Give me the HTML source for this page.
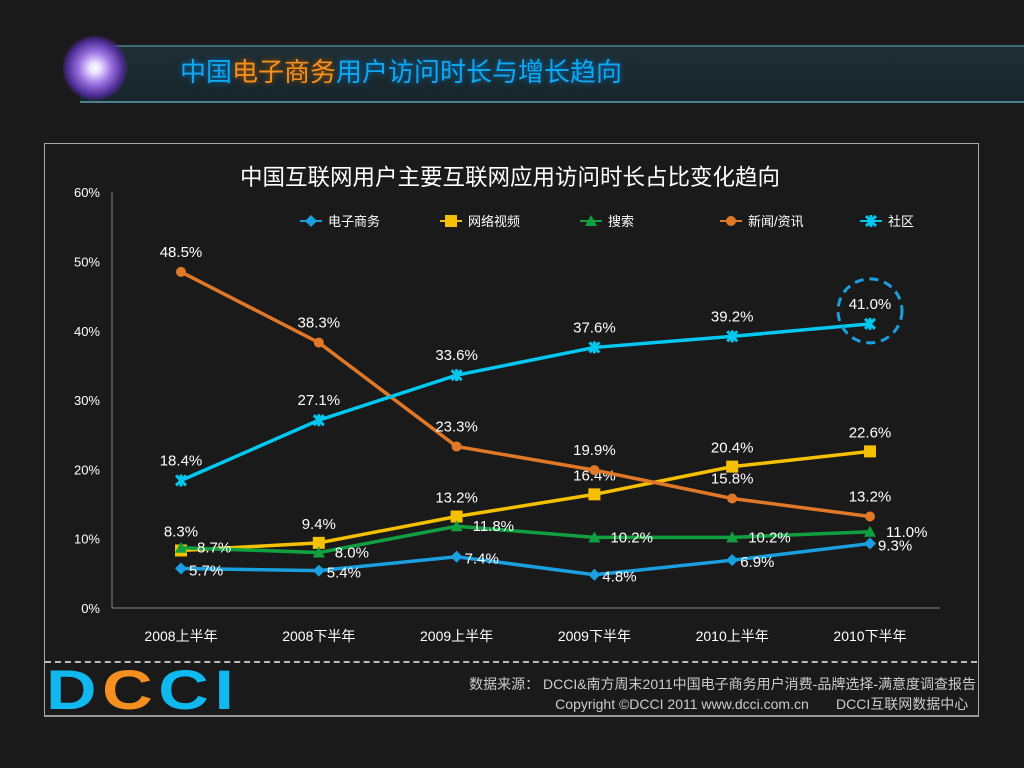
<!DOCTYPE html>
<html><head><meta charset="utf-8"><style>
body{margin:0;width:1024px;height:768px;background:#1a1a1a;overflow:hidden;font-family:"Liberation Sans","Noto Sans CJK SC",sans-serif;position:relative}
.abs{position:absolute}
</style></head><body>
<div class="abs" style="left:80px;top:45px;width:944px;height:54px;background:linear-gradient(#1f2e33,#16262b);border-top:2px solid #3a6a78;border-bottom:2px solid #4a8090"></div>
<div class="abs" style="left:62px;top:35px;width:66px;height:66px;border-radius:50%;background:radial-gradient(circle,#fff 0,#e8e0ff 12%,#9a70e0 35%,#4a2a90 60%,rgba(30,20,60,0) 72%)"></div>
<div class="abs" style="left:180px;top:52px;font-size:26px;color:#10a8f0;text-shadow:0 0 6px #0070c0;font-family:'Liberation Sans','Noto Sans CJK SC',sans-serif">中国<span style="color:#f59020;text-shadow:0 0 6px #a05000">电子商务</span>用户访问时长与增长趋向</div>
<div class="abs" style="left:44px;top:143px;width:933px;height:571px;border:1px solid #aaa;border-bottom:2px solid #999"></div>
<div class="abs" style="left:45px;top:661px;width:932px;border-top:2px dashed #bbb"></div>
<div class="abs" style="left:46px;top:662px;font-size:50px;font-weight:bold;letter-spacing:4px;line-height:50px;font-family:'Liberation Sans',sans-serif;transform:scaleX(1.4) scaleY(1.12);transform-origin:0 0"><span style="color:#10b8f0">D</span><span style="color:#f59020">C</span><span style="color:#10b8f0">CI</span></div>
<div class="abs" style="left:420px;top:674px;width:556px;text-align:right;color:#ccc;font-size:14px;line-height:20px">数据来源： DCCI&amp;南方周末2011中国电子商务用户消费-品牌选择-满意度调查报告<br>Copyright ©DCCI 2011 www.dcci.com.cn&nbsp;&nbsp;&nbsp;&nbsp;&nbsp;&nbsp;&nbsp;DCCI互联网数据中心&nbsp;&nbsp;</div>
<svg class="abs" style="left:0;top:0" width="1024" height="768" id="chart"></svg>
<script>
const categories=["2008上半年","2008下半年","2009上半年","2009下半年","2010上半年","2010下半年"];
const yTicks=[0,10,20,30,40,50,60];
const seriesNames=["电子商务","网络视频","搜索","新闻/资讯","社区"];
const ecommerce=[5.7,5.4,7.4,4.8,6.9,9.3];
const video=[8.3,9.4,13.2,16.4,20.4,22.6];
const search=[8.7,8.0,11.8,10.2,10.2,11.0];
const news=[48.5,38.3,23.3,19.9,15.8,13.2];
const community=[18.4,27.1,33.6,37.6,39.2,41.0];
const svg=document.getElementById('chart');const NS='http://www.w3.org/2000/svg';
const x=i=>181+i*137.8, y=v=>608-v*6.93;
function mk(t,a,txt){const e=document.createElementNS(NS,t);for(const k in a)e.setAttribute(k,a[k]);if(txt!=null)e.textContent=txt;svg.appendChild(e);return e;}
let e=mk('text',{x:510,y:185,'text-anchor':'middle',fill:'#fff','font-size':22.5},'中国互联网用户主要互联网应用访问时长占比变化趋向');


e=mk('line',{x1:112,y1:192,x2:112,y2:608,stroke:'#888'});


e=mk('line',{x1:112,y1:608,x2:940,y2:608,stroke:'#888'});


yTicks.forEach(t=>{e=mk('text',{x:100,y:y(t)+5,'text-anchor':'end',fill:'#fff','font-size':13},t+'%');

});
categories.forEach((c,i)=>{e=mk('text',{x:x(i),y:641,'text-anchor':'middle',fill:'#fff','font-size':14},c);

});
const series=[
 {d:ecommerce,c:'#1aa0e0',m:'diamond',lx:8,ly:7,a:'start'},
 {d:video,c:'#f5c000',m:'square',lx:0,ly:-14,a:'middle'},
 {d:search,c:'#10a040',m:'tri',lx:16,ly:5,a:'start'},
 {d:news,c:'#e07828',m:'circle',lx:0,ly:-15,a:'middle'},
 {d:community,c:'#00c8f0',m:'x',lx:0,ly:-15,a:'middle'}];
function marker(s,cx,cy){let el;
 if(s.m==='diamond')el=mk('path',{d:`M${cx} ${cy-6}L${cx+6} ${cy}L${cx} ${cy+6}L${cx-6} ${cy}Z`,fill:s.c});
 else if(s.m==='square')el=mk('rect',{x:cx-6,y:cy-6,width:12,height:12,fill:s.c});
 else if(s.m==='tri')el=mk('path',{d:`M${cx} ${cy-6}L${cx+6} ${cy+5}L${cx-6} ${cy+5}Z`,fill:s.c});
 else if(s.m==='circle')el=mk('circle',{cx,cy,r:5,fill:s.c});
 else el=mk('path',{d:`M${cx-5} ${cy-5}L${cx+5} ${cy+5}M${cx+5} ${cy-5}L${cx-5} ${cy+5}M${cx} ${cy-6}V${cy+6}`,stroke:s.c,'stroke-width':3});
 
 }
series.forEach((s,k)=>{
 e=mk('polyline',{points:s.d.map((v,i)=>x(i)+','+y(v)).join(' '),fill:'none',stroke:s.c,'stroke-width':3.5});
 
 
 s.d.forEach((v,i)=>marker(s,x(i),y(v)));
 s.d.forEach((v,i)=>{e=mk('text',{x:x(i)+s.lx,y:y(v)+s.ly,'text-anchor':s.a,fill:'#fff','font-size':15},v.toFixed(1)+'%');
 
 });
 const lx=300+k*140;
 e=mk('line',{x1:lx,y1:221,x2:lx+22,y2:221,stroke:s.c,'stroke-width':2});
 
 
 marker(s,lx+11,221);
 e=mk('text',{x:lx+28,y:226,fill:'#fff','font-size':13},seriesNames[k]);
 
 
});
e=mk('circle',{cx:x(5),cy:y(community[5])-13,r:32,fill:'none',stroke:'#1aa0e0','stroke-width':3,'stroke-dasharray':'9 6'});


</script>
</body></html>
